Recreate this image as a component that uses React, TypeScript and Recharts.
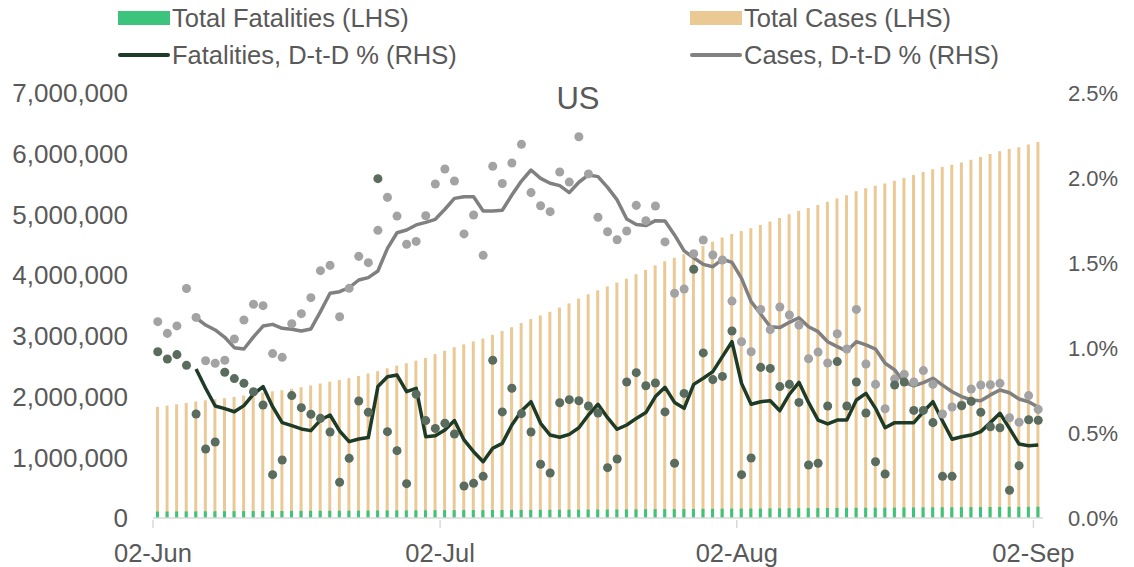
import { Bar, ComposedChart, Line, Scatter, XAxis, YAxis } from 'recharts';

const dates = (
  '02-Jun 03-Jun 04-Jun 05-Jun 06-Jun 07-Jun 08-Jun 09-Jun 10-Jun 11-Jun 12-Jun 13-Jun 14-Jun 15-Jun 16-Jun ' +
  '17-Jun 18-Jun 19-Jun 20-Jun 21-Jun 22-Jun 23-Jun 24-Jun 25-Jun 26-Jun 27-Jun 28-Jun 29-Jun 30-Jun ' +
  '01-Jul 02-Jul 03-Jul 04-Jul 05-Jul 06-Jul 07-Jul 08-Jul 09-Jul 10-Jul 11-Jul 12-Jul 13-Jul 14-Jul 15-Jul ' +
  '16-Jul 17-Jul 18-Jul 19-Jul 20-Jul 21-Jul 22-Jul 23-Jul 24-Jul 25-Jul 26-Jul 27-Jul 28-Jul 29-Jul 30-Jul 31-Jul ' +
  '01-Aug 02-Aug 03-Aug 04-Aug 05-Aug 06-Aug 07-Aug 08-Aug 09-Aug 10-Aug 11-Aug 12-Aug 13-Aug 14-Aug 15-Aug ' +
  '16-Aug 17-Aug 18-Aug 19-Aug 20-Aug 21-Aug 22-Aug 23-Aug 24-Aug 25-Aug 26-Aug 27-Aug 28-Aug 29-Aug 30-Aug 31-Aug ' +
  '01-Sep 02-Sep'
).split(' ');

const tickLabels = ['02-Jun', '02-Jul', '02-Aug', '02-Sep'];

// cumulative totals (LHS)
const totalCases = [
  1831000, 1851000, 1872000, 1897000, 1920000, 1939000, 1956000, 1974000, 1995000, 2018000,
  2043000, 2067000, 2086000, 2105000, 2128000, 2155000, 2183000, 2215000, 2246000, 2272000,
  2303000, 2340000, 2379000, 2419000, 2466000, 2510000, 2549000, 2591000, 2637000, 2700000,
  2755000, 2813000, 2860000, 2909000, 2956000, 3017000, 3080000, 3142000, 3212000, 3277000,
  3337000, 3397000, 3466000, 3535000, 3612000, 3685000, 3750000, 3814000, 3878000, 3943000,
  4015000, 4086000, 4161000, 4229000, 4288000, 4344000, 4411000, 4481000, 4550000, 4620000,
  4678000, 4726000, 4774000, 4827000, 4882000, 4941000, 5003000, 5059000, 5106000, 5157000,
  5209000, 5262000, 5316000, 5383000, 5431000, 5472000, 5508000, 5554000, 5601000, 5648000,
  5698000, 5744000, 5780000, 5818000, 5857000, 5902000, 5947000, 5995000, 6039000, 6076000,
  6108000, 6150000, 6192000,
];

const totalFatalities = [
  106200, 107200, 108200, 109100, 109800, 110500, 111000, 112000, 112900, 113800,
  114600, 115300, 115700, 116100, 116900, 117700, 118400, 119100, 119700, 120000,
  120400, 121200, 122000, 124500, 125100, 125600, 125900, 126300, 127400, 128100,
  128800, 129400, 129700, 129900, 130200, 131400, 132200, 133000, 133700, 134400,
  134800, 135200, 136100, 137100, 138000, 139000, 139900, 140300, 140800, 141900,
  143100, 144200, 145400, 146300, 146800, 147300, 148600, 150700, 152200, 153400,
  154700, 155100, 155600, 157000, 158400, 159600, 160900, 161900, 162400, 162900,
  164400, 165900, 166900, 168300, 169300, 169900, 170400, 171700, 173100, 174200,
  175300, 176300, 176800, 177200, 178400, 179600, 180500, 181500, 182400, 182700,
  183200, 184300, 185300,
];

// day-to-day % changes (RHS), daily points
const fatDaily = [
  0.978, 0.935, 0.961, 0.898, 0.612, 0.406, 0.447, 0.857, 0.82, 0.792,
  0.743, 0.665, 0.255, 0.341, 0.72, 0.649, 0.61, 0.586, 0.506, 0.21,
  0.351, 0.688, 0.622, 1.996, 0.508, 0.396, 0.202, 0.728, 0.573, 0.527,
  0.557, 0.494, 0.188, 0.204, 0.245, 0.928, 0.624, 0.763, 0.614, 0.506,
  0.316, 0.265, 0.678, 0.696, 0.69, 0.659, 0.618, 0.296, 0.347, 0.8,
  0.855, 0.778, 0.794, 0.624, 0.322, 0.733, 1.463, 0.971, 0.814, 0.833,
  1.1, 0.255, 0.353, 0.886, 0.88, 0.773, 0.786, 0.68, 0.312, 0.322,
  0.659, 0.92, 0.659, 0.8, 0.618, 0.331, 0.259, 0.782, 0.8, 0.633,
  0.633, 0.561, 0.245, 0.245, 0.66, 0.686, 0.622, 0.537, 0.531, 0.163,
  0.308, 0.578, 0.575,
];

const casesDaily = [
  1.155, 1.086, 1.13, 1.35, 1.18, 0.925, 0.91, 0.928, 1.053, 1.165,
  1.257, 1.249, 0.967, 0.945, 1.143, 1.202, 1.296, 1.455, 1.486, 1.184,
  1.351, 1.539, 1.502, 1.692, 1.886, 1.776, 1.61, 1.627, 1.778, 1.965,
  2.053, 1.982, 1.671, 1.782, 1.545, 2.069, 1.968, 2.088, 2.198, 1.914,
  1.837, 1.802, 2.035, 1.976, 2.243, 2.024, 1.769, 1.684, 1.637, 1.688,
  1.839, 1.749, 1.835, 1.624, 1.322, 1.347, 1.555, 1.635, 1.547, 1.518,
  1.276, 1.037, 0.978, 1.227, 1.108, 1.241, 1.194, 1.135, 0.937, 0.976,
  0.912, 1.084, 0.994, 1.227, 0.906, 0.786, 0.643, 0.818, 0.845, 0.8,
  0.867, 0.786, 0.612, 0.653, 0.665, 0.759, 0.782, 0.784, 0.792, 0.59,
  0.563, 0.72, 0.639,
];

// smoothed lines (RHS)
const fatMA = [
  null, null, null, null, 0.876, 0.763, 0.659, 0.643, 0.625, 0.661,
  0.728, 0.773, 0.655, 0.561, 0.543, 0.524, 0.514, 0.576, 0.606, 0.512,
  0.449, 0.465, 0.473, 0.773, 0.831, 0.841, 0.743, 0.763, 0.478, 0.484,
  0.518, 0.573, 0.459, 0.39, 0.331, 0.41, 0.439, 0.547, 0.629, 0.684,
  0.557, 0.488, 0.475, 0.492, 0.531, 0.606, 0.669, 0.59, 0.522, 0.547,
  0.586, 0.62, 0.714, 0.769, 0.68, 0.645, 0.786, 0.822, 0.861, 0.949,
  1.037, 0.792, 0.669, 0.684, 0.69, 0.631, 0.728, 0.798, 0.68, 0.576,
  0.553, 0.576, 0.576, 0.694, 0.733, 0.645, 0.531, 0.561, 0.561, 0.561,
  0.625, 0.684, 0.571, 0.463, 0.478, 0.488, 0.508, 0.561, 0.616, 0.527,
  0.435, 0.425, 0.429,
];

const casesMA = [
  null, null, null, null, 1.178, 1.135, 1.106, 1.063, 1.002, 0.994,
  1.065, 1.129, 1.139, 1.116, 1.11, 1.1, 1.112, 1.214, 1.322, 1.331,
  1.355, 1.4, 1.414, 1.453, 1.586, 1.678, 1.694, 1.724, 1.739, 1.757,
  1.816, 1.88, 1.89, 1.89, 1.806, 1.806, 1.81, 1.9, 1.982, 2.047,
  1.998, 1.969, 1.955, 1.914, 1.975, 2.018, 2.008, 1.945, 1.871, 1.759,
  1.727, 1.72, 1.749, 1.747, 1.665, 1.571, 1.531, 1.492, 1.478, 1.522,
  1.504, 1.41, 1.273, 1.2, 1.125, 1.12, 1.151, 1.178, 1.125, 1.096,
  1.037, 1.008, 0.982, 1.037, 1.018, 0.994, 0.91, 0.871, 0.798, 0.778,
  0.796, 0.822, 0.782, 0.743, 0.714, 0.694, 0.69, 0.724, 0.753, 0.737,
  0.7, 0.684, 0.651,
];

const leftTicks = [0, 1000000, 2000000, 3000000, 4000000, 5000000, 6000000, 7000000];
const rightTicks = [0, 0.5, 1, 1.5, 2, 2.5];

const data = dates.map((date, i) => ({
  date,
  totalCases: totalCases[i],
  totalFatalities: totalFatalities[i],
  fatDaily: fatDaily[i],
  casesDaily: casesDaily[i],
  fatMA: fatMA[i],
  casesMA: casesMA[i],
}));

const W = 1134;
const H = 567;
const LEFT_W = 153;
const RIGHT_W = 91;
const TOP = 93;
const X_H = 49;
const PLOT_W = W - LEFT_W - RIGHT_W;
// ticks sit between categories, like Excel does
const HALF_BAND = PLOT_W / dates.length / 2;

const TEXT = '#595959';
const FONT = '"Liberation Sans", Arial, sans-serif';

function DateTick(props: any) {
  const { x, y, payload } = props;
  if (!tickLabels.includes(payload.value)) return <g />;
  const tx = x - HALF_BAND;
  return (
    <g>
      <line x1={tx} x2={tx} y1={y} y2={y + 8} stroke="#d9d9d9" strokeWidth={1.5} />
      <text x={tx} y={y + 42} textAnchor="middle" fontSize={25.5} fill={TEXT}>
        {payload.value}
      </text>
    </g>
  );
}

function LegendItem({ left, top, label, kind, color }: { left: number; top: number; label: string; kind: 'box' | 'line'; color: string }) {
  return (
    <div style={{ position: 'absolute', left, top, height: 28, display: 'flex', alignItems: 'center', whiteSpace: 'nowrap' }}>
      {kind === 'box' ? (
        <div style={{ width: 52, height: 14, background: color, marginRight: 2 }} />
      ) : (
        <div style={{ width: 52, height: 4, background: color, borderRadius: 2, marginRight: 2 }} />
      )}
      <span style={{ fontSize: 25.5, color: TEXT }}>{label}</span>
    </div>
  );
}

export default function App() {
  return (
    <div style={{ position: 'absolute', left: 0, top: 0, width: W, height: H, background: '#fff', fontFamily: FONT }}>
      <ComposedChart width={W} height={H} data={data} margin={{ top: TOP, right: 0, bottom: 0, left: 0 }}>
        <XAxis
          dataKey="date"
          height={X_H}
          interval={0}
          tickLine={false}
          tickSize={0}
          axisLine={{ stroke: '#d9d9d9', strokeWidth: 1.5 }}
          tick={<DateTick />}
        />
        <XAxis xAxisId="f" dataKey="date" hide />
        <YAxis
          yAxisId="left"
          width={LEFT_W}
          domain={[0, 7000000]}
          ticks={leftTicks}
          axisLine={false}
          tickLine={false}
          tickSize={0}
          tickMargin={25}
          tick={{ fontSize: 26, fill: TEXT }}
          tickFormatter={(v: number) => v.toLocaleString('en-US')}
        />
        <YAxis
          yAxisId="right"
          orientation="right"
          width={RIGHT_W}
          domain={[0, 2.5]}
          ticks={rightTicks}
          axisLine={false}
          tickLine={false}
          tickSize={0}
          tickMargin={25}
          tick={{ fontSize: 22, fill: TEXT }}
          tickFormatter={(v: number) => v.toFixed(1) + '%'}
        />
        <Bar yAxisId="left" dataKey="totalCases" fill="#ebc994" barSize={3} isAnimationActive={false} />
        <Bar yAxisId="left" xAxisId="f" dataKey="totalFatalities" fill="#3cc47c" barSize={3} isAnimationActive={false} />
        <Scatter yAxisId="right" dataKey="casesDaily" fill="#a3a3a3" isAnimationActive={false} />
        <Scatter yAxisId="right" dataKey="fatDaily" fill="#5a6c5d" isAnimationActive={false} />
        <Line
          yAxisId="right"
          type="linear"
          dataKey="casesMA"
          stroke="#808080"
          strokeWidth={3.5}
          strokeLinejoin="round"
          dot={false}
          isAnimationActive={false}
        />
        <Line
          yAxisId="right"
          type="linear"
          dataKey="fatMA"
          stroke="#1e3b28"
          strokeWidth={3.5}
          strokeLinejoin="round"
          dot={false}
          isAnimationActive={false}
        />
      </ComposedChart>
      <div style={{ position: 'absolute', left: 0, width: 1156, top: 81, textAlign: 'center', fontSize: 31, color: TEXT }}>US</div>
      <LegendItem left={118} top={4} label="Total Fatalities (LHS)" kind="box" color="#3cc47c" />
      <LegendItem left={690} top={4} label="Total Cases (LHS)" kind="box" color="#ebc994" />
      <LegendItem left={118} top={41} label="Fatalities, D-t-D % (RHS)" kind="line" color="#1e3b28" />
      <LegendItem left={690} top={41} label="Cases, D-t-D % (RHS)" kind="line" color="#808080" />
    </div>
  );
}
